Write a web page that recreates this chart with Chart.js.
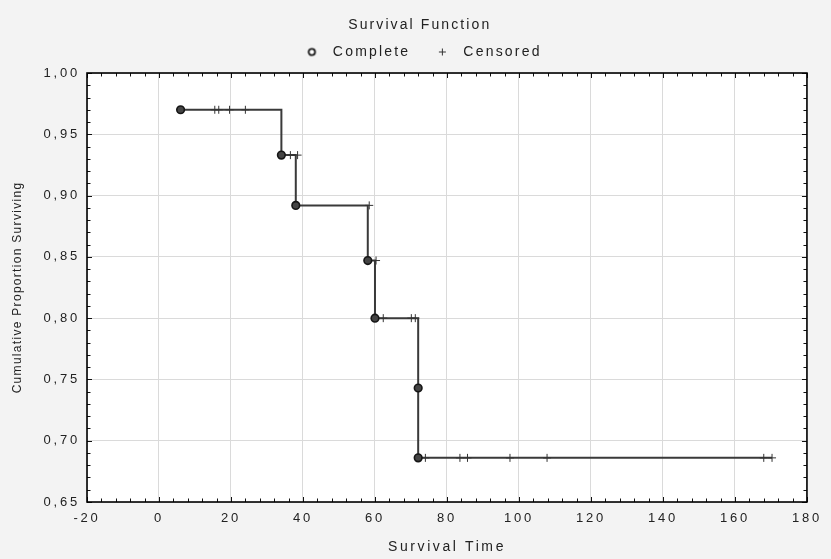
<!DOCTYPE html>
<html><head><meta charset="utf-8">
<script src="https://cdn.jsdelivr.net/npm/chart.js@4.4.1/dist/chart.umd.min.js"></script>
<style>html,body{margin:0;padding:0;background:#f3f3f3;}canvas{display:block;}</style>
</head><body>
<canvas id="c" width="831" height="559"></canvas>
<script>
// Kaplan-Meier survival estimates (complete / event points)
const eventTimes = [6, 34, 38, 58, 60, 72, 72];
const survival   = [0.970, 0.933, 0.892, 0.847, 0.800, 0.743, 0.686];
// Censored observations (time, level of the curve)
const censorTimes  = [15.5, 16.6, 19.6, 24.0, 36.5, 38.5, 58.4, 60.3, 62.3, 70.1, 71.2, 74.0, 83.6, 85.7, 97.5, 107.8, 168.0, 170.3];
const censorLevels = [0.970, 0.970, 0.970, 0.970, 0.933, 0.933, 0.892, 0.847, 0.800, 0.800, 0.800, 0.686, 0.686, 0.686, 0.686, 0.686, 0.686, 0.686];
// Axis ticks
const xTickValues = [-20, 0, 20, 40, 60, 80, 100, 120, 140, 160, 180];
const yTickValues = [0.65, 0.70, 0.75, 0.80, 0.85, 0.90, 0.95, 1.00];
const yTickLabels = ['0,65', '0,70', '0,75', '0,80', '0,85', '0,90', '0,95', '1,00'];

const stepPoints = eventTimes.map((t, i) => ({x: t, y: survival[i]}));
stepPoints.push({x: Math.max(...censorTimes), y: survival[survival.length - 1]});
const completePoints = eventTimes.map((t, i) => ({x: t, y: survival[i]}));
const censoredPoints = censorTimes.map((t, i) => ({x: t, y: censorLevels[i]}));

const FONT = '"Liberation Sans", Arial, sans-serif';
const SP = '2.8px';

// legend symbols: hollow ring for "Complete", plus for "Censored"
const ringIcon = document.createElement('canvas');
ringIcon.width = 11; ringIcon.height = 11;
(function () {
  const g = ringIcon.getContext('2d');
  g.beginPath(); g.arc(5.5, 5.5, 3.2, 0, Math.PI * 2);
  g.fillStyle = '#ffffff'; g.fill();
  g.lineWidth = 1.8; g.strokeStyle = '#1a1a1a'; g.stroke();
})();
const plusIcon = document.createElement('canvas');
plusIcon.width = 9; plusIcon.height = 9;
(function () {
  const g = plusIcon.getContext('2d');
  g.strokeStyle = '#333'; g.lineWidth = 1;
  g.beginPath();
  g.moveTo(4.5, 1); g.lineTo(4.5, 8);
  g.moveTo(1, 4.5); g.lineTo(8, 4.5);
  g.stroke();
})();

function withSpacing(obj, method, sp) {
  if (!obj || obj['_sp_' + method]) return;
  const orig = obj[method];
  obj[method] = function (...args) {
    const c = this.ctx; const prev = c.letterSpacing;
    c.letterSpacing = sp;
    try { return orig.apply(this, args); } finally { c.letterSpacing = prev; }
  };
  obj['_sp_' + method] = true;
}

const framePlugin = {
  id: 'frame',
  beforeUpdate(chart) {
    chart.ctx.letterSpacing = SP;
    withSpacing(chart.legend, 'fit', '2.2px');
    withSpacing(chart.legend, 'draw', '2.2px');
    withSpacing(chart.titleBlock, 'draw', '2.1px');
  },
  beforeLayout(chart) { chart.ctx.letterSpacing = SP; },
  afterLayout(chart) {
    withSpacing(chart.scales.y, 'drawTitle', '1.3px');
    withSpacing(chart.scales.x, 'drawTitle', '2.6px');
  },
  beforeDraw(chart) {
    const {ctx, chartArea: a} = chart;
    ctx.letterSpacing = SP;
    ctx.save();
    ctx.fillStyle = '#f3f3f3';
    ctx.fillRect(0, 0, chart.width, chart.height);
    ctx.fillStyle = '#ffffff';
    ctx.fillRect(a.left, a.top, a.width, a.height);
    ctx.restore();
  },
  afterDraw(chart) {
    const {ctx, chartArea: a} = chart;
    const xs = chart.scales.x, ys = chart.scales.y;
    ctx.save();
    ctx.strokeStyle = '#111';
    ctx.lineWidth = 1;
    ctx.beginPath();
    for (let k = 0; k <= 50; k++) {
      const v = xs.min + k * 4;
      const px = Math.round(xs.getPixelForValue(v)) + 0.5;
      const L = (k % 5 === 0) ? 5 : 3.5;
      ctx.moveTo(px, a.bottom); ctx.lineTo(px, a.bottom - L);
      ctx.moveTo(px, a.top); ctx.lineTo(px, a.top + L);
    }
    for (let k = 0; k <= 35; k++) {
      const v = ys.min + k * 0.01;
      const py = Math.round(ys.getPixelForValue(v)) + 0.5;
      const L = (k % 5 === 0) ? 5 : 3.5;
      ctx.moveTo(a.left, py); ctx.lineTo(a.left + L, py);
      ctx.moveTo(a.right, py); ctx.lineTo(a.right - L, py);
    }
    ctx.stroke();
    ctx.lineWidth = 1.6;
    ctx.strokeStyle = '#000';
    ctx.strokeRect(a.left, a.top, a.width, a.height);
    ctx.restore();
  }
};

new Chart(document.getElementById('c'), {
  type: 'scatter',
  data: {
    datasets: [
      {label: 'KM', data: stepPoints, showLine: true, stepped: 'before',
       borderColor: '#3a3a3a', borderWidth: 2, pointRadius: 0, order: 3},
      {label: 'Complete', data: completePoints, pointStyle: 'circle', pointRadius: 3.8,
       backgroundColor: '#444', borderColor: '#151515', borderWidth: 1.6, order: 1},
      {label: 'Censored', data: censoredPoints, pointStyle: 'cross', pointRadius: 4,
       backgroundColor: '#333', borderColor: '#333', borderWidth: 1, order: 2}
    ]
  },
  options: {
    responsive: false,
    animation: false,
    events: [],
    layout: {padding: {top: 0, right: 15.5, left: 24, bottom: 0}},
    plugins: {
      tooltip: {enabled: false},
      title: {display: true, text: 'Survival Function', color: '#222',
              font: {family: FONT, size: 14, weight: 'normal'}, padding: {top: 17, bottom: -6.8}},
      subtitle: {display: true, text: '', weight: 500, font: {size: 1}, padding: {top: 0, bottom: 2.8}},
      legend: {display: true, position: 'top',
               labels: {usePointStyle: true, boxHeight: 5, pointStyleWidth: 28, padding: 18, color: '#222',
                        font: {family: FONT, size: 14},
                        filter: (item) => item.text !== 'KM',
                        generateLabels: (chart) => {
                          const items = Chart.defaults.plugins.legend.labels.generateLabels(chart);
                          items.forEach(it => {
                            if (it.text === 'Complete') it.pointStyle = ringIcon;
                            if (it.text === 'Censored') it.pointStyle = plusIcon;
                          });
                          return items;
                        }}}
    },
    scales: {
      x: {
        type: 'linear', min: xTickValues[0], max: xTickValues[xTickValues.length - 1],
        afterBuildTicks: (s) => { s.ticks = xTickValues.map(v => ({value: v})); },
        afterFit: (s) => { s.height = 57; },
        grid: {color: '#dadada', lineWidth: 1, drawTicks: false},
        border: {display: false},
        ticks: {color: '#222', padding: 9, font: {family: FONT, size: 13}, maxRotation: 0,
                callback: (v) => String(v)},
        title: {display: true, text: 'Survival Time', color: '#222',
                font: {family: FONT, size: 14}, padding: {top: 4, bottom: 3}}
      },
      y: {
        type: 'linear', min: yTickValues[0], max: yTickValues[yTickValues.length - 1],
        afterBuildTicks: (s) => { s.ticks = yTickValues.map(v => ({value: v})); },
        afterFit: (s) => { s.width = 63; },
        grid: {color: '#dadada', lineWidth: 1, drawTicks: false},
        border: {display: false},
        ticks: {color: '#222', padding: 7, font: {family: FONT, size: 13},
                callback: (v) => { const i = yTickValues.findIndex(t => Math.abs(t - v) < 1e-6); return i >= 0 ? yTickLabels[i] : ''; }},
        title: {display: true, text: 'Cumulative Proportion Surviving', color: '#222',
                font: {family: FONT, size: 12}, padding: {top: -13.2, bottom: 0}}
      }
    }
  },
  plugins: [framePlugin]
});
</script>
</body></html>
